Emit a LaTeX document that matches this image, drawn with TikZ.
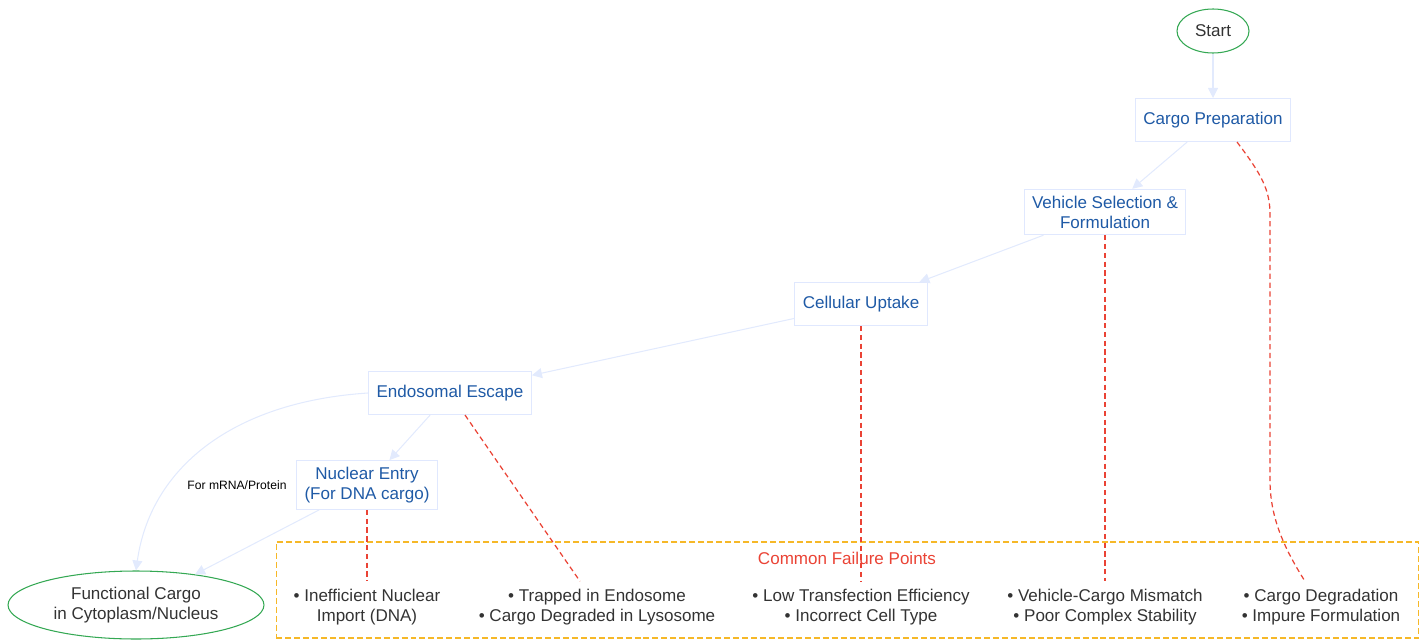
\documentclass[tikz,border=0pt]{standalone}
\usepackage{fontspec}
\setmainfont{Liberation Sans}
\usepackage{tikz}
\usetikzlibrary{shapes.geometric, arrows.meta, positioning}
\definecolor{stepblue}{RGB}{31,90,166}
\definecolor{boxline}{RGB}{224,232,254}
\definecolor{flowcolor}{RGB}{226,234,253}
\definecolor{failred}{RGB}{234,67,53}
\definecolor{failorange}{RGB}{246,184,40}
\definecolor{termgreen}{RGB}{52,168,83}
\definecolor{textgray}{RGB}{51,51,51}

\begin{document}
\begin{tikzpicture}[
    x=0.02cm, y=-0.02cm,
    box/.style={rectangle, draw=boxline, line width=0.6pt, fill=white, text=stepblue, align=center, font=\fontsize{9.7}{11.3}\selectfont, inner xsep=0.16cm, inner ysep=0.13cm, minimum height=0.86cm},
    term/.style={ellipse, draw=termgreen, line width=0.6pt, fill=white, text=textgray, align=center, font=\fontsize{9.7}{11.3}\selectfont, inner sep=0pt},
    arrow/.style={-{Triangle[length=2mm, width=2mm]}, draw=flowcolor, line width=0.6pt},
    fail/.style={draw=failred, dash pattern=on 3pt off 2pt, line width=0.7pt},
    failbox/.style={rectangle, draw=failorange, dash pattern=on 3.4pt off 1.7pt, line width=0.6pt},
    failtitle/.style={text=failred, font=\fontsize{9.7}{11.3}\selectfont},
    item/.style={text=textgray, align=center, font=\fontsize{9.7}{11.3}\selectfont, inner sep=0.15cm},
    edgelabel/.style={font=\fontsize{6.9}{8}\selectfont, text=black}
]
\useasboundingbox (0,0) rectangle (1426,639);

% Nodes
\node[term, minimum width=1.44cm, minimum height=0.88cm] (start) at (1213,31) {Start};
\node[box] (cargo) at (1213,120) {Cargo Preparation};
\node[box] (vehicle) at (1105,212) {Vehicle Selection \&\\Formulation};
\node[box] (uptake) at (861,304) {Cellular Uptake};
\node[box] (escape) at (450,393) {Endosomal Escape};
\node[box] (nuclear) at (367,485) {Nuclear Entry\\(For DNA cargo)};
\node[term, minimum width=5.12cm, minimum height=1.36cm] (functional) at (136,605) {Functional Cargo\\in Cytoplasm/Nucleus};

% Failure points
\node[failbox, minimum width=22.86cm, minimum height=1.92cm] (failures) at (847.5,590) {};
\node[failtitle] (failhead) at (847,558) {Common Failure Points};
\node[item] (fnuclear) at (367,607) {• Inefficient Nuclear\\Import (DNA)};
\node[item] (fescape) at (597,607) {• Trapped in Endosome\\• Cargo Degraded in Lysosome};
\node[item] (fuptake) at (861,607) {• Low Transfection Efficiency\\• Incorrect Cell Type};
\node[item] (fvehicle) at (1105,607) {• Vehicle-Cargo Mismatch\\• Poor Complex Stability};
\node[item] (fcargo) at (1321,607) {• Cargo Degradation\\• Impure Formulation};

% Arrows
\draw[arrow] (start) -- (cargo);
\draw[arrow] (cargo) -- (vehicle);
\draw[arrow] (vehicle) -- (uptake);
\draw[arrow] (uptake) -- (escape);
\draw[arrow] (escape) -- (nuclear);
\draw[arrow] (escape.west) .. controls (230,402) and (150,470) .. (functional.north);
\draw[arrow] (nuclear) -- (functional);

% Failure links
\draw[fail] (nuclear) -- (fnuclear);
\draw[fail] ([xshift=0.3cm]escape.south) -- ([xshift=-0.34cm]fescape.north);
\draw[fail] (uptake) -- (fuptake);
\draw[fail] (vehicle) -- (fvehicle);
\draw[fail] ([xshift=0.48cm]cargo.south) .. controls (1262,175) and (1270,190) .. (1270,215)
    -- (1270,480) .. controls (1270,515) and (1282,545) .. ([xshift=-0.32cm]fcargo.north);

% Labels
\node[edgelabel] (mrnalabel) at (237,485) {For mRNA/Protein};

\end{tikzpicture}
\end{document}
